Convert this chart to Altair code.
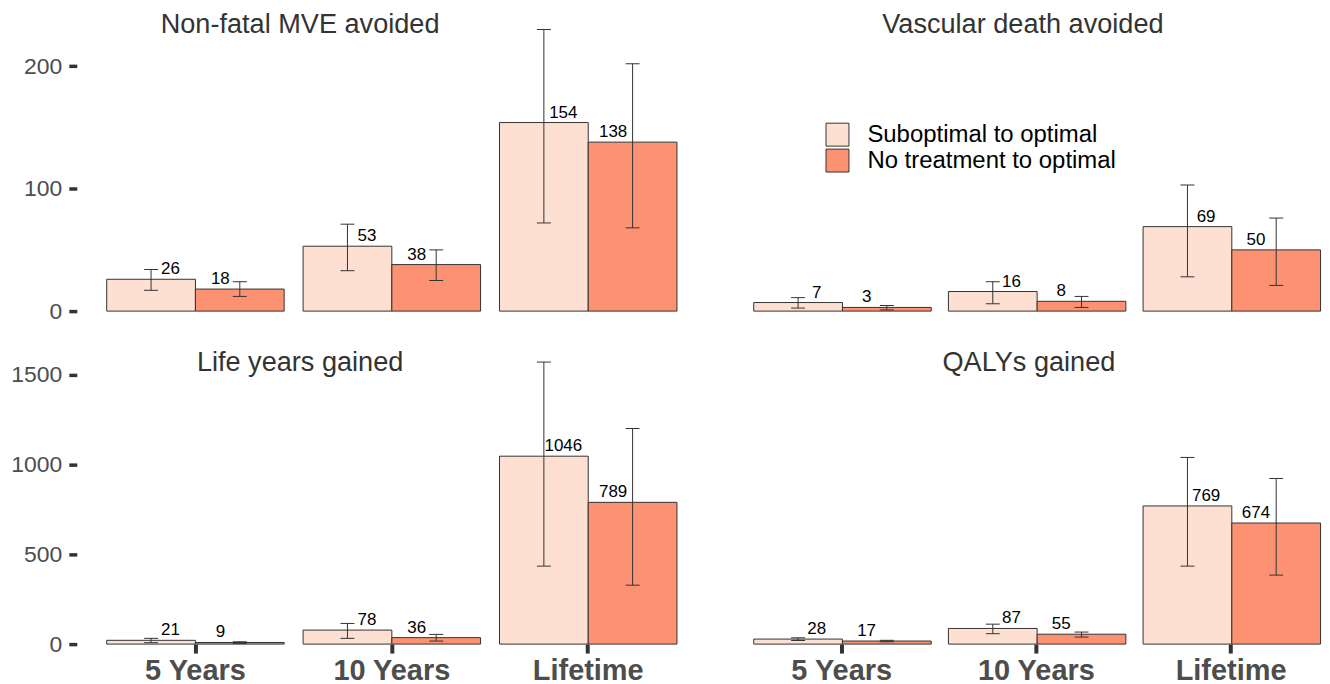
import altair as alt
import pandas as pd

periods = ["5 Years", "10 Years", "Lifetime"]
series = ["Suboptimal to optimal", "No treatment to optimal"]
panels = ["Non-fatal MVE avoided", "Vascular death avoided", "Life years gained", "QALYs gained"]
colors = ["#FEE0D2", "#FC9272"]

# Non-fatal MVE avoided
mve_sub = [26, 53, 154]
mve_sub_lo = [17, 33, 72]
mve_sub_hi = [34, 71, 230]
mve_no = [18, 38, 138]
mve_no_lo = [12, 25, 68]
mve_no_hi = [24, 50, 202]

# Vascular death avoided
vd_sub = [7, 16, 69]
vd_sub_lo = [2.5, 6, 28]
vd_sub_hi = [11, 24, 103]
vd_no = [3, 8, 50]
vd_no_lo = [1, 3, 21]
vd_no_hi = [4.6, 12, 76]

# Life years gained
ly_sub = [21, 78, 1046]
ly_sub_lo = [8, 32, 434]
ly_sub_hi = [32, 115, 1570]
ly_no = [9, 36, 789]
ly_no_lo = [4, 17, 328]
ly_no_hi = [13, 54, 1200]

# QALYs gained
q_sub = [28, 87, 769]
q_sub_lo = [20, 58, 434]
q_sub_hi = [35, 111, 1039]
q_no = [17, 55, 674]
q_no_lo = [13, 39, 384]
q_no_hi = [21, 67, 922]

panel_data = {
    panels[0]: [(mve_sub, mve_sub_lo, mve_sub_hi), (mve_no, mve_no_lo, mve_no_hi)],
    panels[1]: [(vd_sub, vd_sub_lo, vd_sub_hi), (vd_no, vd_no_lo, vd_no_hi)],
    panels[2]: [(ly_sub, ly_sub_lo, ly_sub_hi), (ly_no, ly_no_lo, ly_no_hi)],
    panels[3]: [(q_sub, q_sub_lo, q_sub_hi), (q_no, q_no_lo, q_no_hi)],
}

rows = []
for pname, sers in panel_data.items():
    for sname, (vals, los, his) in zip(series, sers):
        for per, v, lo, hi in zip(periods, vals, los, his):
            rows.append({"panel": pname, "period": per, "series": sname,
                         "value": v, "lo": lo, "hi": hi})
df = pd.DataFrame(rows)

FONT = "Liberation Sans"

legend = alt.Legend(
    orient="none", legendX=751, legendY=114, title=None,
    symbolType="square", symbolSize=529, symbolStrokeColor="#333333",
    symbolStrokeWidth=1, symbolOpacity=1, labelFontSize=24, labelFont=FONT,
    labelColor="black", labelOffset=18, rowPadding=-4, padding=0,
    labelLimit=400,
)


def make_panel(name, ymax, yticks, left, bottom, tx, ty):
    d = df[df["panel"] == name]
    if left:
        xscale = alt.Scale(paddingInner=0.0964, paddingOuter=0.1523, align=0.5)
        width = 632
    else:
        xscale = alt.Scale(paddingInner=0.0964, paddingOuter=0.0768, align=1)
        width = 597
    xaxis = alt.Axis(
        labelFont=FONT, labelFontSize=29, labelFontWeight="bold",
        labelColor="#4d4d4d", tickSize=9, tickWidth=4, tickColor="#333333",
        domain=False, labelPadding=4, labelAngle=0, grid=False,
    ) if bottom else None
    x = alt.X("period:N", sort=periods, scale=xscale, axis=xaxis, title=None)
    yaxis = alt.Axis(
        values=yticks, format="d", labelFont=FONT, labelFontSize=23,
        labelColor="#4d4d4d", tickSize=8, tickWidth=3.5, tickColor="#333333",
        domain=False, labelPadding=7, grid=False, minExtent=66, maxExtent=66,
    ) if left else None
    yscale = alt.Scale(domain=[0, ymax], nice=False, zero=True)

    def yenc(field):
        return alt.Y(f"{field}:Q", scale=yscale, axis=yaxis, title=None)

    xo = alt.XOffset("series:N", sort=series,
                     scale=alt.Scale(domain=series, paddingInner=0, paddingOuter=0))
    color = alt.Color("series:N", scale=alt.Scale(domain=series, range=colors),
                      legend=legend, sort=series)
    base = alt.Chart(d)
    bars = base.mark_bar(stroke="#333333", strokeWidth=1).encode(
        x=x, xOffset=xo, y=yenc("value"), color=color)
    rule = base.mark_rule(color="#333333", strokeWidth=1).encode(
        x=x, xOffset=xo, y=yenc("lo"), y2="hi:Q")
    cap_lo = base.mark_tick(color="#333333", size=14, thickness=1,
                            orient="horizontal", opacity=1).encode(
        x=x, xOffset=xo, y=yenc("lo"))
    cap_hi = base.mark_tick(color="#333333", size=14, thickness=1,
                            orient="horizontal", opacity=1).encode(
        x=x, xOffset=xo, y=yenc("hi"))
    txt_a = base.transform_filter(alt.datum.series == series[0]).mark_text(
        dx=-25, dy=-5, baseline="alphabetic", align="center",
        font=FONT, fontSize=17, color="black").encode(
        x=x, y=yenc("value"), text=alt.Text("value:Q", format="d"))
    txt_b = base.transform_filter(alt.datum.series == series[1]).mark_text(
        dx=25, dy=-5, baseline="alphabetic", align="center",
        font=FONT, fontSize=17, color="black").encode(
        x=x, y=yenc("value"), text=alt.Text("value:Q", format="d"))
    title = alt.Chart(pd.DataFrame({"title": [name]})).mark_text(
        baseline="alphabetic", align="center", font=FONT, fontSize=27.2,
        color="#333333").encode(
        text="title:N", x=alt.value(tx), y=alt.value(ty))
    return alt.layer(bars, rule, cap_lo, cap_hi, txt_a, txt_b, title).properties(
        width=width, height=303 if not bottom else 302,
    )


p1 = make_panel(panels[0], 246.7, [0, 100, 200], True, False, 224, 24)
p2 = make_panel(panels[1], 246.7, [0, 100, 200], False, False, 300, 24)
p3 = make_panel(panels[2], 1676, [0, 500, 1000, 1500], True, True, 224, 28)
p4 = make_panel(panels[3], 1676, [0, 500, 1000, 1500], False, True, 306, 28)

top = alt.hconcat(p1, p2, spacing=17)
bottom = alt.hconcat(p3, p4, spacing=17)
chart = alt.vconcat(top, bottom, spacing=20).properties(
    padding={"left": 2, "top": 0, "right": 0, "bottom": 0}
).configure_view(stroke=None)

chart.save("out.html", embed_options={"renderer": "svg", "actions": False})
